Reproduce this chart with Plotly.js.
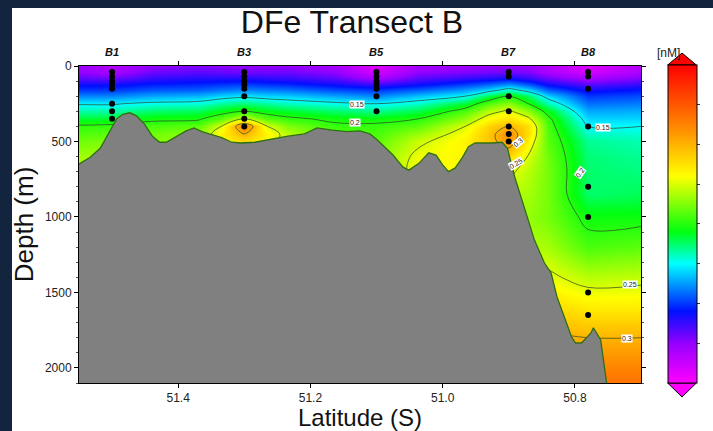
<!DOCTYPE html>
<html>
<head>
<meta charset="utf-8">
<script src="https://cdn.plot.ly/plotly-3.0.1.min.js"></script>
<style>
  html, body { margin: 0; padding: 0; width: 713px; height: 431px; overflow: hidden; background: #fff; }
  #chart { position: absolute; left: 0; top: 0; width: 713px; height: 431px; }
  .frame { position: absolute; background: #12243e; pointer-events: none; z-index: 5; }
  #frameTop { left: 0; top: 0; width: 713px; height: 8px; }
  #frameLeft { left: 0; top: 0; width: 12px; height: 431px; }
</style>
</head>
<body>
<div id="chart"></div>
<div class="frame" id="frameTop"></div>
<div class="frame" id="frameLeft"></div>
<script>
// Grid of the DFe section: latitude columns (west to east) and depth rows
const gridLat = [51.55, 51.5, 51.44, 51.369, 51.335, 51.3, 51.265, 51.234, 51.163, 51.1,
                 51.037, 50.966, 50.93, 50.9, 50.87, 50.84, 50.78, 50.70];
const gridDepth = [0, 40, 80, 120, 160, 200, 250, 300, 350, 400, 450, 500, 600, 700, 850, 1000, 1200, 1400, 1600, 1800, 2000, 2100];

// DFe (nM) profiles, one per latitude column, top to bottom
const dfe_5155 = [0.045, 0.05, 0.065, 0.085, 0.1, 0.12, 0.148, 0.165, 0.185, 0.203, 0.212, 0.22, 0.235, 0.245, 0.25, 0.25, 0.25, 0.25, 0.25, 0.25, 0.25, 0.25];
const dfe_B1   = [0.035, 0.04, 0.06, 0.085, 0.1, 0.12, 0.148, 0.165, 0.185, 0.205, 0.215, 0.225, 0.235, 0.24, 0.24, 0.24, 0.24, 0.24, 0.24, 0.24, 0.24, 0.24];
const dfe_5144 = [0.05, 0.06, 0.075, 0.092, 0.108, 0.128, 0.155, 0.175, 0.195, 0.21, 0.22, 0.225, 0.23, 0.23, 0.23, 0.23, 0.23, 0.23, 0.23, 0.23, 0.23, 0.23];
const dfe_5137 = [0.055, 0.065, 0.08, 0.095, 0.11, 0.132, 0.158, 0.178, 0.197, 0.215, 0.23, 0.235, 0.235, 0.235, 0.235, 0.235, 0.235, 0.235, 0.235, 0.235, 0.235, 0.235];
const dfe_5133 = [0.052, 0.062, 0.08, 0.098, 0.115, 0.14, 0.168, 0.19, 0.215, 0.25, 0.265, 0.26, 0.25, 0.245, 0.24, 0.24, 0.24, 0.24, 0.24, 0.24, 0.24, 0.24];
const dfe_B3   = [0.05, 0.06, 0.08, 0.1, 0.12, 0.145, 0.175, 0.2, 0.25, 0.33, 0.3, 0.28, 0.26, 0.25, 0.25, 0.25, 0.25, 0.25, 0.25, 0.25, 0.25, 0.25];
const dfe_5127 = [0.05, 0.06, 0.077, 0.097, 0.117, 0.14, 0.168, 0.19, 0.215, 0.25, 0.265, 0.26, 0.25, 0.245, 0.24, 0.24, 0.24, 0.24, 0.24, 0.24, 0.24, 0.24];
const dfe_5123 = [0.05, 0.06, 0.075, 0.095, 0.115, 0.138, 0.162, 0.185, 0.205, 0.225, 0.24, 0.24, 0.235, 0.235, 0.235, 0.235, 0.235, 0.235, 0.235, 0.235, 0.235, 0.235];
const dfe_5116 = [0.04, 0.05, 0.065, 0.085, 0.105, 0.128, 0.155, 0.175, 0.195, 0.205, 0.21, 0.215, 0.22, 0.22, 0.22, 0.22, 0.22, 0.22, 0.22, 0.22, 0.22, 0.22];
const dfe_B5   = [0.015, 0.02, 0.04, 0.072, 0.1, 0.12, 0.15, 0.17, 0.193, 0.205, 0.21, 0.215, 0.225, 0.23, 0.23, 0.23, 0.23, 0.23, 0.23, 0.23, 0.23, 0.23];
const dfe_5104 = [0.04, 0.05, 0.065, 0.085, 0.11, 0.135, 0.16, 0.18, 0.2, 0.215, 0.232, 0.245, 0.256, 0.258, 0.255, 0.25, 0.25, 0.25, 0.25, 0.25, 0.25, 0.25];
const dfe_5097 = [0.045, 0.055, 0.075, 0.1, 0.125, 0.15, 0.185, 0.21, 0.23, 0.25, 0.26, 0.265, 0.265, 0.26, 0.26, 0.26, 0.26, 0.26, 0.26, 0.26, 0.26, 0.26];
const dfe_5093 = [0.048, 0.058, 0.08, 0.11, 0.14, 0.18, 0.215, 0.24, 0.262, 0.282, 0.29, 0.29, 0.28, 0.265, 0.26, 0.26, 0.26, 0.26, 0.27, 0.29, 0.31, 0.32];
const dfe_B7   = [0.05, 0.06, 0.085, 0.12, 0.16, 0.2, 0.23, 0.255, 0.275, 0.3, 0.32, 0.315, 0.28, 0.255, 0.24, 0.235, 0.24, 0.26, 0.285, 0.31, 0.33, 0.335];
const dfe_5087 = [0.045, 0.055, 0.075, 0.105, 0.14, 0.175, 0.2, 0.228, 0.255, 0.275, 0.275, 0.265, 0.248, 0.24, 0.235, 0.23, 0.24, 0.26, 0.285, 0.31, 0.33, 0.335];
const dfe_5084 = [0.035, 0.04, 0.06, 0.085, 0.11, 0.14, 0.165, 0.19, 0.205, 0.21, 0.213, 0.215, 0.22, 0.222, 0.222, 0.222, 0.235, 0.255, 0.28, 0.305, 0.33, 0.335];
const dfe_B8   = [0.015, 0.02, 0.04, 0.065, 0.085, 0.1, 0.115, 0.128, 0.14, 0.15, 0.16, 0.168, 0.173, 0.175, 0.175, 0.193, 0.21, 0.24, 0.27, 0.3, 0.325, 0.335];
const dfe_5070 = [0.035, 0.04, 0.055, 0.075, 0.092, 0.105, 0.118, 0.13, 0.14, 0.15, 0.158, 0.163, 0.168, 0.172, 0.178, 0.193, 0.215, 0.243, 0.27, 0.3, 0.325, 0.335];

// Bottom topography along the transect
const bathyLat = [51.55, 51.533, 51.518, 51.503, 51.493, 51.484, 51.473, 51.463, 51.451, 51.439,
  51.428, 51.418, 51.403, 51.388, 51.376, 51.364, 51.349, 51.334, 51.319, 51.305,
  51.284, 51.26, 51.234, 51.209, 51.19, 51.167, 51.145, 51.125, 51.11, 51.1,
  51.09, 51.075, 51.06, 51.051, 51.036, 51.021, 51.01, 51.0, 50.991, 50.981,
  50.97, 50.961, 50.951, 50.925, 50.91, 50.902, 50.891, 50.881, 50.872, 50.861,
  50.846, 50.836, 50.827, 50.816, 50.805, 50.799, 50.79, 50.776, 50.772, 50.761,
  50.752];
const bathyDepth = [650, 605, 545, 425, 350, 320, 310, 330, 385, 465,
  505, 505, 465, 430, 410, 435, 455, 475, 505, 510,
  505, 485, 465, 450, 410, 425, 435, 430, 450, 485,
  525, 590, 670, 690, 645, 575, 590, 655, 700, 675,
  605, 535, 510, 510, 505, 545, 735, 870, 1000, 1155,
  1305, 1370, 1530, 1665, 1795, 1835, 1835, 1770, 1735, 1815,
  2100];

// Stations and their sample depths
const stationNames = ['B1', 'B3', 'B5', 'B7', 'B8'];
const stationLat = [51.5, 51.3, 51.1, 50.9, 50.78];
const samplesB1 = [40, 70, 100, 125, 150, 250, 300, 350];
const samplesB3 = [40, 70, 100, 125, 150, 200, 300, 350, 400];
const samplesB5 = [40, 70, 100, 125, 150, 200, 300];
const samplesB7 = [40, 70, 200, 300, 400, 450, 500];
const samplesB8 = [40, 70, 150, 400, 800, 1000, 1500, 1650];

// Contour labels: level, latitude, depth, angle
const labelLevel = ['0.15', '0.2', '0.15', '0.3', '0.25', '0.2', '0.25', '0.3'];
const labelLat   = [51.13, 51.133, 50.758, 50.886, 50.889, 50.792, 50.717, 50.721];
const labelDepth = [255, 372, 405, 505, 645, 705, 1447, 1805];
const labelAngle = [0, 0, 0, -40, -30, -55, 0, 0];

const columns = [dfe_5155, dfe_B1, dfe_5144, dfe_5137, dfe_5133, dfe_B3, dfe_5127, dfe_5123, dfe_5116,
                 dfe_B5, dfe_5104, dfe_5097, dfe_5093, dfe_B7, dfe_5087, dfe_5084, dfe_B8, dfe_5070];
const z = gridDepth.map((d, i) => columns.map(col => col[i]));

const rainbow = [
  [0.0, '#ff00ff'], [0.125, '#9400ff'], [0.225, '#0010ff'], [0.375, '#00ffff'],
  [0.475, '#00ff10'], [0.65, '#ffff00'], [0.8, '#ff8c00'], [1.0, '#ff0000']
];

const FONT = 'Liberation Sans, Arial, Helvetica, sans-serif';

const field = {
  type: 'heatmap', x: gridLat, y: gridDepth, z: z,
  zmin: 0, zmax: 0.4, zsmooth: 'best', colorscale: rainbow,
  hoverinfo: 'skip',
  colorbar: {
    x: 1.0475, xanchor: 'left', xpad: 0,
    y: 1.0032, yanchor: 'top', ypad: 0,
    len: 318, lenmode: 'pixels', thickness: 29, thicknessmode: 'pixels',
    outlinewidth: 1, outlinecolor: '#000',
    ticks: 'outside', ticklen: 3, tickcolor: '#333',
    tickvals: [0.05, 0.1, 0.15, 0.2, 0.25, 0.3, 0.35], showticklabels: false
  }
};

const isolines = {
  type: 'contour', x: gridLat, y: gridDepth, z: z,
  showscale: false, hoverinfo: 'skip',
  contours: { coloring: 'none', start: 0.15, end: 0.3, size: 0.05, showlabels: false },
  line: { color: 'rgba(45,70,35,0.8)', width: 0.9, smoothing: 1 }
};

const seabed = {
  type: 'scatter', mode: 'lines', hoverinfo: 'skip',
  x: bathyLat.concat([bathyLat[0]]),
  y: bathyDepth.concat([bathyDepth[bathyDepth.length - 1]]),
  fill: 'toself', fillcolor: '#808080', line: { width: 0 }
};

const seabedEdge = {
  type: 'scatter', mode: 'lines', hoverinfo: 'skip',
  x: bathyLat, y: bathyDepth,
  line: { color: '#2f6f12', width: 1.3 }
};

const sampleSets = [samplesB1, samplesB3, samplesB5, samplesB7, samplesB8];
const dotX = [], dotY = [];
sampleSets.forEach((set, k) => set.forEach(d => { dotX.push(stationLat[k]); dotY.push(d); }));
const samples = {
  type: 'scatter', mode: 'markers', x: dotX, y: dotY, hoverinfo: 'skip',
  marker: { color: '#000', size: 6 }
};

const annotations = [];
stationNames.forEach((n, k) => annotations.push({
  x: stationLat[k], xref: 'x', y: 1, yref: 'paper', yanchor: 'bottom', yshift: 6,
  text: '<b><i>' + n + '</i></b>', showarrow: false,
  font: { family: FONT, size: 11, color: '#111' }
}));
labelLevel.forEach((t, k) => annotations.push({
  x: labelLat[k], y: labelDepth[k], xref: 'x', yref: 'y', text: t, showarrow: false,
  textangle: labelAngle[k], bgcolor: '#fff', borderpad: 0,
  font: { family: FONT, size: 7, color: '#222' }
}));
annotations.push({
  x: 1.073, xref: 'paper', y: 1.069, yref: 'paper', text: '[nM]', showarrow: false,
  font: { family: FONT, size: 12, color: '#222' }
});

const layout = {
  width: 713, height: 431,
  margin: { l: 79, r: 65, t: 66, b: 48 },
  paper_bgcolor: '#fff', plot_bgcolor: '#fff',
  showlegend: false,
  font: { family: FONT, color: '#222' },
  title: {
    text: 'DFe Transect B', x: 352 / 713, xref: 'container', xanchor: 'center',
    y: 1 - 22 / 431, yref: 'container', yanchor: 'middle',
    font: { family: FONT, size: 32, color: '#111' }
  },
  xaxis: {
    range: [51.55, 50.70], showgrid: false, zeroline: false,
    showline: true, linecolor: '#000', linewidth: 1, mirror: 'allticks',
    ticks: 'outside', ticklen: 4, tickcolor: '#000',
    tickvals: [51.4, 51.2, 51.0, 50.8], ticktext: ['51.4', '51.2', '51.0', '50.8'],
    tickfont: { family: FONT, size: 12, color: '#222' },
    title: { text: 'Latitude (S)', standoff: 5, font: { family: FONT, size: 24, color: '#111' } }
  },
  yaxis: {
    range: [2100, 0], showgrid: false, zeroline: false,
    showline: true, linecolor: '#000', linewidth: 1, mirror: 'allticks',
    ticks: 'outside', ticklen: 4, tickcolor: '#000',
    tick0: 0, dtick: 500,
    minor: { tick0: 0, dtick: 100, ticks: 'outside', ticklen: 2, tickcolor: '#555', showgrid: false },
    tickfont: { family: FONT, size: 12, color: '#222' },
    title: { text: 'Depth (m)', standoff: 3, font: { family: FONT, size: 26, color: '#111' } }
  },
  shapes: [
    { type: 'path', xref: 'paper', yref: 'paper',
      path: 'M 1.0475 1.0032 L 1.0985 1.0032 L 1.073 1.041 Z',
      fillcolor: '#ff0000', line: { color: '#000', width: 1 } },
    { type: 'path', xref: 'paper', yref: 'paper',
      path: 'M 1.0475 0 L 1.0985 0 L 1.073 -0.0442 Z',
      fillcolor: '#ff00ff', line: { color: '#000', width: 1 } }
  ],
  annotations: annotations
};

Plotly.newPlot('chart', [field, isolines, seabed, seabedEdge, samples], layout,
  { displayModeBar: false, staticPlot: true });
</script>
</body>
</html>
